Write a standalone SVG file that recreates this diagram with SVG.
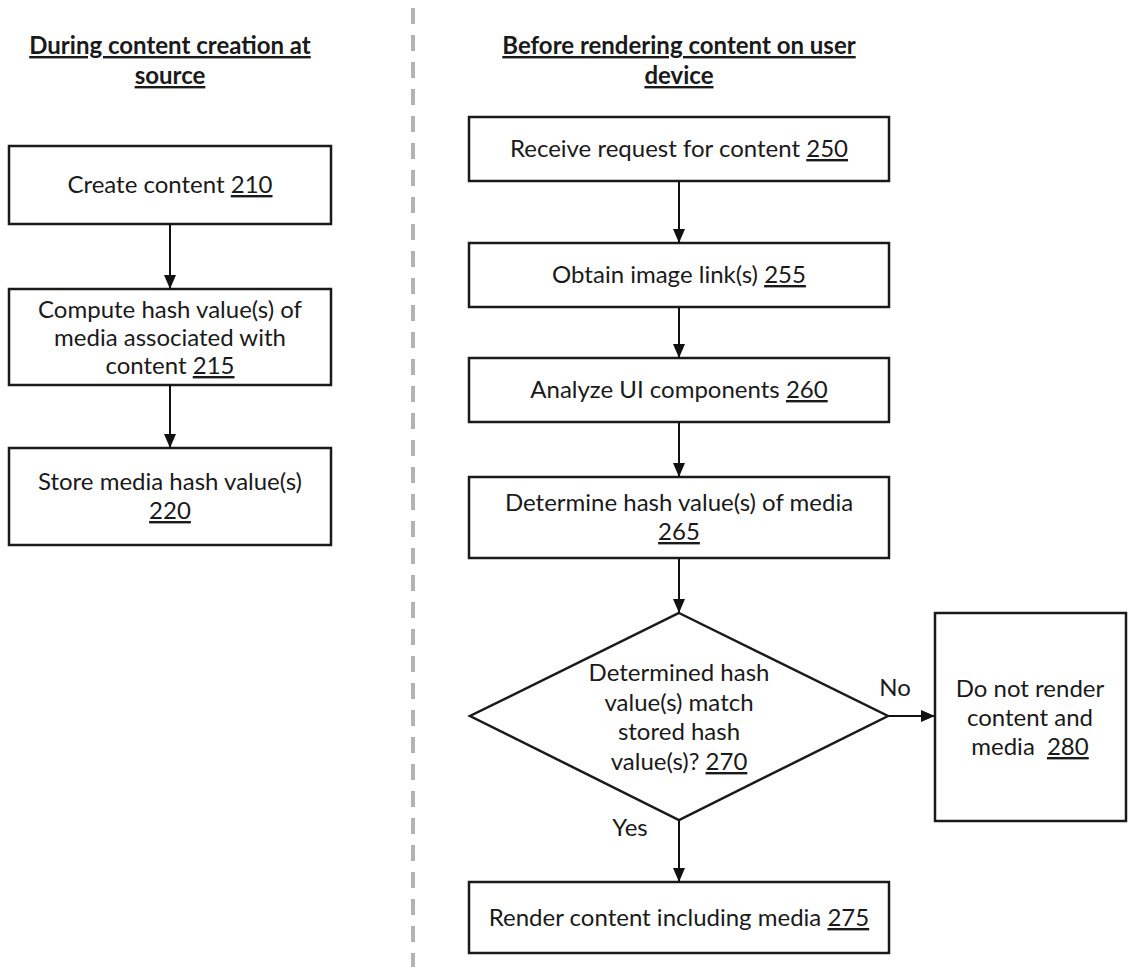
<svg xmlns="http://www.w3.org/2000/svg" width="1128" height="967" viewBox="0 0 1128 967">
<defs>
<marker id="ah" viewBox="0 0 14 12" refX="14" refY="6" markerWidth="14" markerHeight="12" markerUnits="userSpaceOnUse" orient="auto">
<path d="M0,0 L14,6 L0,12 Z" fill="#111"/>
</marker>
<style>
.box{fill:#fff;stroke:#1a1a1a;stroke-width:2.5}
.t{font-family:Lato,"Liberation Sans",sans-serif;font-size:24px;fill:#1a1a1a;text-anchor:middle}
.h{font-family:Lato,"Liberation Sans",sans-serif;font-size:24px;font-weight:bold;fill:#1a1a1a;text-anchor:middle;text-decoration:underline}
.u{text-decoration:underline}
.c{fill:none;stroke:#111;stroke-width:2}
</style>
</defs>
<rect width="1128" height="967" fill="#fff"/>
<line x1="413" y1="8" x2="413" y2="967" stroke="#b3b3b3" stroke-width="4" stroke-dasharray="16 11"/>
<g id="title-left">
<text class="h" x="170" y="54">During content creation at</text>
<text class="h" x="170" y="84">source</text>
</g>
<g id="title-right">
<text class="h" x="679" y="54">Before rendering content on user</text>
<text class="h" x="679" y="84">device</text>
</g>
<g id="n210">
<rect class="box" x="9" y="146" width="322" height="78"/>
<text class="t" x="170" y="193">Create content <tspan class="u">210</tspan></text>
</g>
<g id="n215">
<rect class="box" x="9" y="289" width="322" height="96"/>
<text class="t" x="170" y="318">Compute hash value(s) of</text>
<text class="t" x="170" y="346">media associated with</text>
<text class="t" x="170" y="374">content <tspan class="u">215</tspan></text>
</g>
<g id="n220">
<rect class="box" x="9" y="448" width="322" height="97"/>
<text class="t" x="170" y="490">Store media hash value(s)</text>
<text class="t" x="170" y="519"><tspan class="u">220</tspan></text>
</g>
<g id="n250">
<rect class="box" x="469" y="117" width="420" height="64"/>
<text class="t" x="679" y="157">Receive request for content <tspan class="u">250</tspan></text>
</g>
<g id="n255">
<rect class="box" x="469" y="243" width="420" height="64"/>
<text class="t" x="679" y="283">Obtain image link(s) <tspan class="u">255</tspan></text>
</g>
<g id="n260">
<rect class="box" x="469" y="358" width="420" height="64"/>
<text class="t" x="679" y="398">Analyze UI components <tspan class="u">260</tspan></text>
</g>
<g id="n265">
<rect class="box" x="469" y="477" width="420" height="81"/>
<text class="t" x="679" y="511">Determine hash value(s) of media</text>
<text class="t" x="679" y="540"><tspan class="u">265</tspan></text>
</g>
<g id="n270">
<path class="box" d="M679,613 L888,716 L679,820 L470,716 Z"/>
<text class="t" x="679" y="681">Determined hash</text>
<text class="t" x="679" y="711">value(s) match</text>
<text class="t" x="679" y="740">stored hash</text>
<text class="t" x="679" y="770">value(s)? <tspan class="u">270</tspan></text>
</g>
<g id="n280">
<rect class="box" x="935" y="613" width="191" height="208"/>
<text class="t" x="1030" y="697">Do not render</text>
<text class="t" x="1030" y="726">content and</text>
<text class="t" x="1030" y="755">media <tspan class="u" dx="6">280</tspan></text>
</g>
<g id="n275">
<rect class="box" x="469" y="882" width="420" height="71"/>
<text class="t" x="679" y="926">Render content including media <tspan class="u">275</tspan></text>
</g>
<g id="connectors">
<line class="c" x1="170" y1="224" x2="170" y2="289" marker-end="url(#ah)"/>
<line class="c" x1="170" y1="385" x2="170" y2="448" marker-end="url(#ah)"/>
<line class="c" x1="679" y1="181" x2="679" y2="243" marker-end="url(#ah)"/>
<line class="c" x1="679" y1="307" x2="679" y2="358" marker-end="url(#ah)"/>
<line class="c" x1="679" y1="422" x2="679" y2="477" marker-end="url(#ah)"/>
<line class="c" x1="679" y1="558" x2="679" y2="613" marker-end="url(#ah)"/>
<line class="c" x1="679" y1="820" x2="679" y2="882" marker-end="url(#ah)"/>
<line class="c" x1="888" y1="716" x2="935" y2="716" marker-end="url(#ah)"/>
<text class="t" x="895" y="696">No</text>
<text class="t" x="630" y="836">Yes</text>
</g>
</svg>
